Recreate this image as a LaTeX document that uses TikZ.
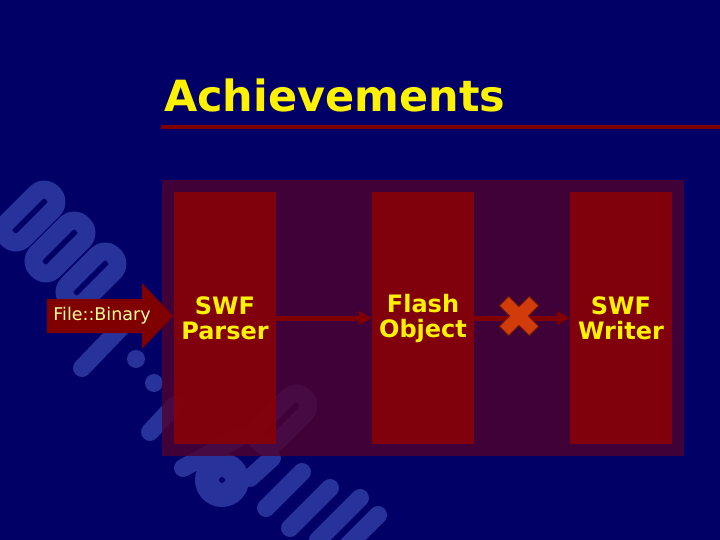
\documentclass[tikz,border=0pt]{standalone}
\usepackage{fontspec}
\setmainfont{DejaVu Sans}
\usepackage{xcolor}
\usepackage{tikz}
\usetikzlibrary{calc, positioning, arrows.meta}

\definecolor{slideblue}{RGB}{0,0,102}
\definecolor{logoblue}{RGB}{40,50,155}
\definecolor{boxred}{RGB}{144,0,0}
\definecolor{panelplum}{RGB}{80,0,45}
\definecolor{linered}{RGB}{128,0,0}
\definecolor{crossred}{RGB}{210,60,10}
\definecolor{crossedge}{RGB}{120,30,0}
\definecolor{paleyellow}{RGB}{255,255,153}

\begin{document}
\begin{tikzpicture}[x=1pt,y=-1pt,
                    logo stroke/.style={draw=logoblue,line width=18pt,line cap=round,line join=round},
                    panel/.style={fill=panelplum,fill opacity=0.8,minimum width=522pt,minimum height=275pt,inner sep=0pt},
                    stage box/.style={fill=boxred,fill opacity=0.8,text opacity=1,text=yellow,align=center,
                                      font={\bfseries\fontsize{24}{25}\selectfont},
                                      minimum width=102pt,minimum height=252pt,inner sep=0pt},
                    flow/.style={draw=linered,line width=5pt,-{Triangle[length=13pt,width=13pt]}},
                    title/.style={text=yellow,font={\bfseries\fontsize{43}{50}\selectfont},inner sep=0pt}]
\useasboundingbox (0,0) rectangle (720,540);
\fill[slideblue] (0,0) rectangle (720,540);

% watermark behind the panel
\foreach \cx/\cy in {30/216,60/247,91/278,282/420}
   \draw[logo stroke,rounded corners=11pt,shift={(\cx,\cy)},rotate=-45] (-12,-32) rectangle (12,32);
\draw[logo stroke] (82,368) -- (130,318);
\fill[logoblue] (136,359) circle (9) (154,383) circle (9);
\draw[logo stroke] (150,432) -- (175,405);
\draw[logo stroke] (183,468) -- (240,437);
\draw[logo stroke,line width=24pt] (222,480) circle (15);
\draw[logo stroke] (250,478) -- (272,458);
\draw[logo stroke] (266,508) -- (302,472);
\draw[logo stroke] (290,528) -- (330,488);
\draw[logo stroke] (318,540) -- (360,498);
\draw[logo stroke] (345,548) -- (378,515);

\node[title,anchor=base west] (heading) at (164,112) {Achievements};
\coordinate (rule start) at (161,127);
\coordinate (rule end) at (720,127);
\draw[linered,line width=4.5pt] (rule start) -- (rule end);

\node[panel] (frame) at (423,318) {};

\foreach \x/\name/\txt in {225/parser/{SWF\\Parser},423/flash/{Flash\\Object},621/writer/{SWF\\Writer}}
   \node[stage box] (\name) at (\x,318) {\txt};

% input arrow
\fill[linered] (47,299) -- (142,299) -- (142,283) -- (173,316) -- (142,349) -- (142,333) -- (47,333) -- cycle;
\node[text=paleyellow,font={\fontsize{17.5}{20}\selectfont},inner sep=0pt] (binary) at (102,316) {File::Binary};

\draw[flow] (parser) -- (flash);
\draw[flow] (flash) -- (writer);

\node[inner sep=0pt] (stop) at (519,316) {};
\filldraw[fill=crossred,draw=crossedge,line width=0.8pt,shift={(stop)},rotate=45]
   (6.5,6.5) -- (21,6.5) -- (21,-6.5) -- (6.5,-6.5) -- (6.5,-21) -- (-6.5,-21) -- (-6.5,-6.5)
   -- (-21,-6.5) -- (-21,6.5) -- (-6.5,6.5) -- (-6.5,21) -- (6.5,21) -- cycle;

\end{tikzpicture}
\end{document}
